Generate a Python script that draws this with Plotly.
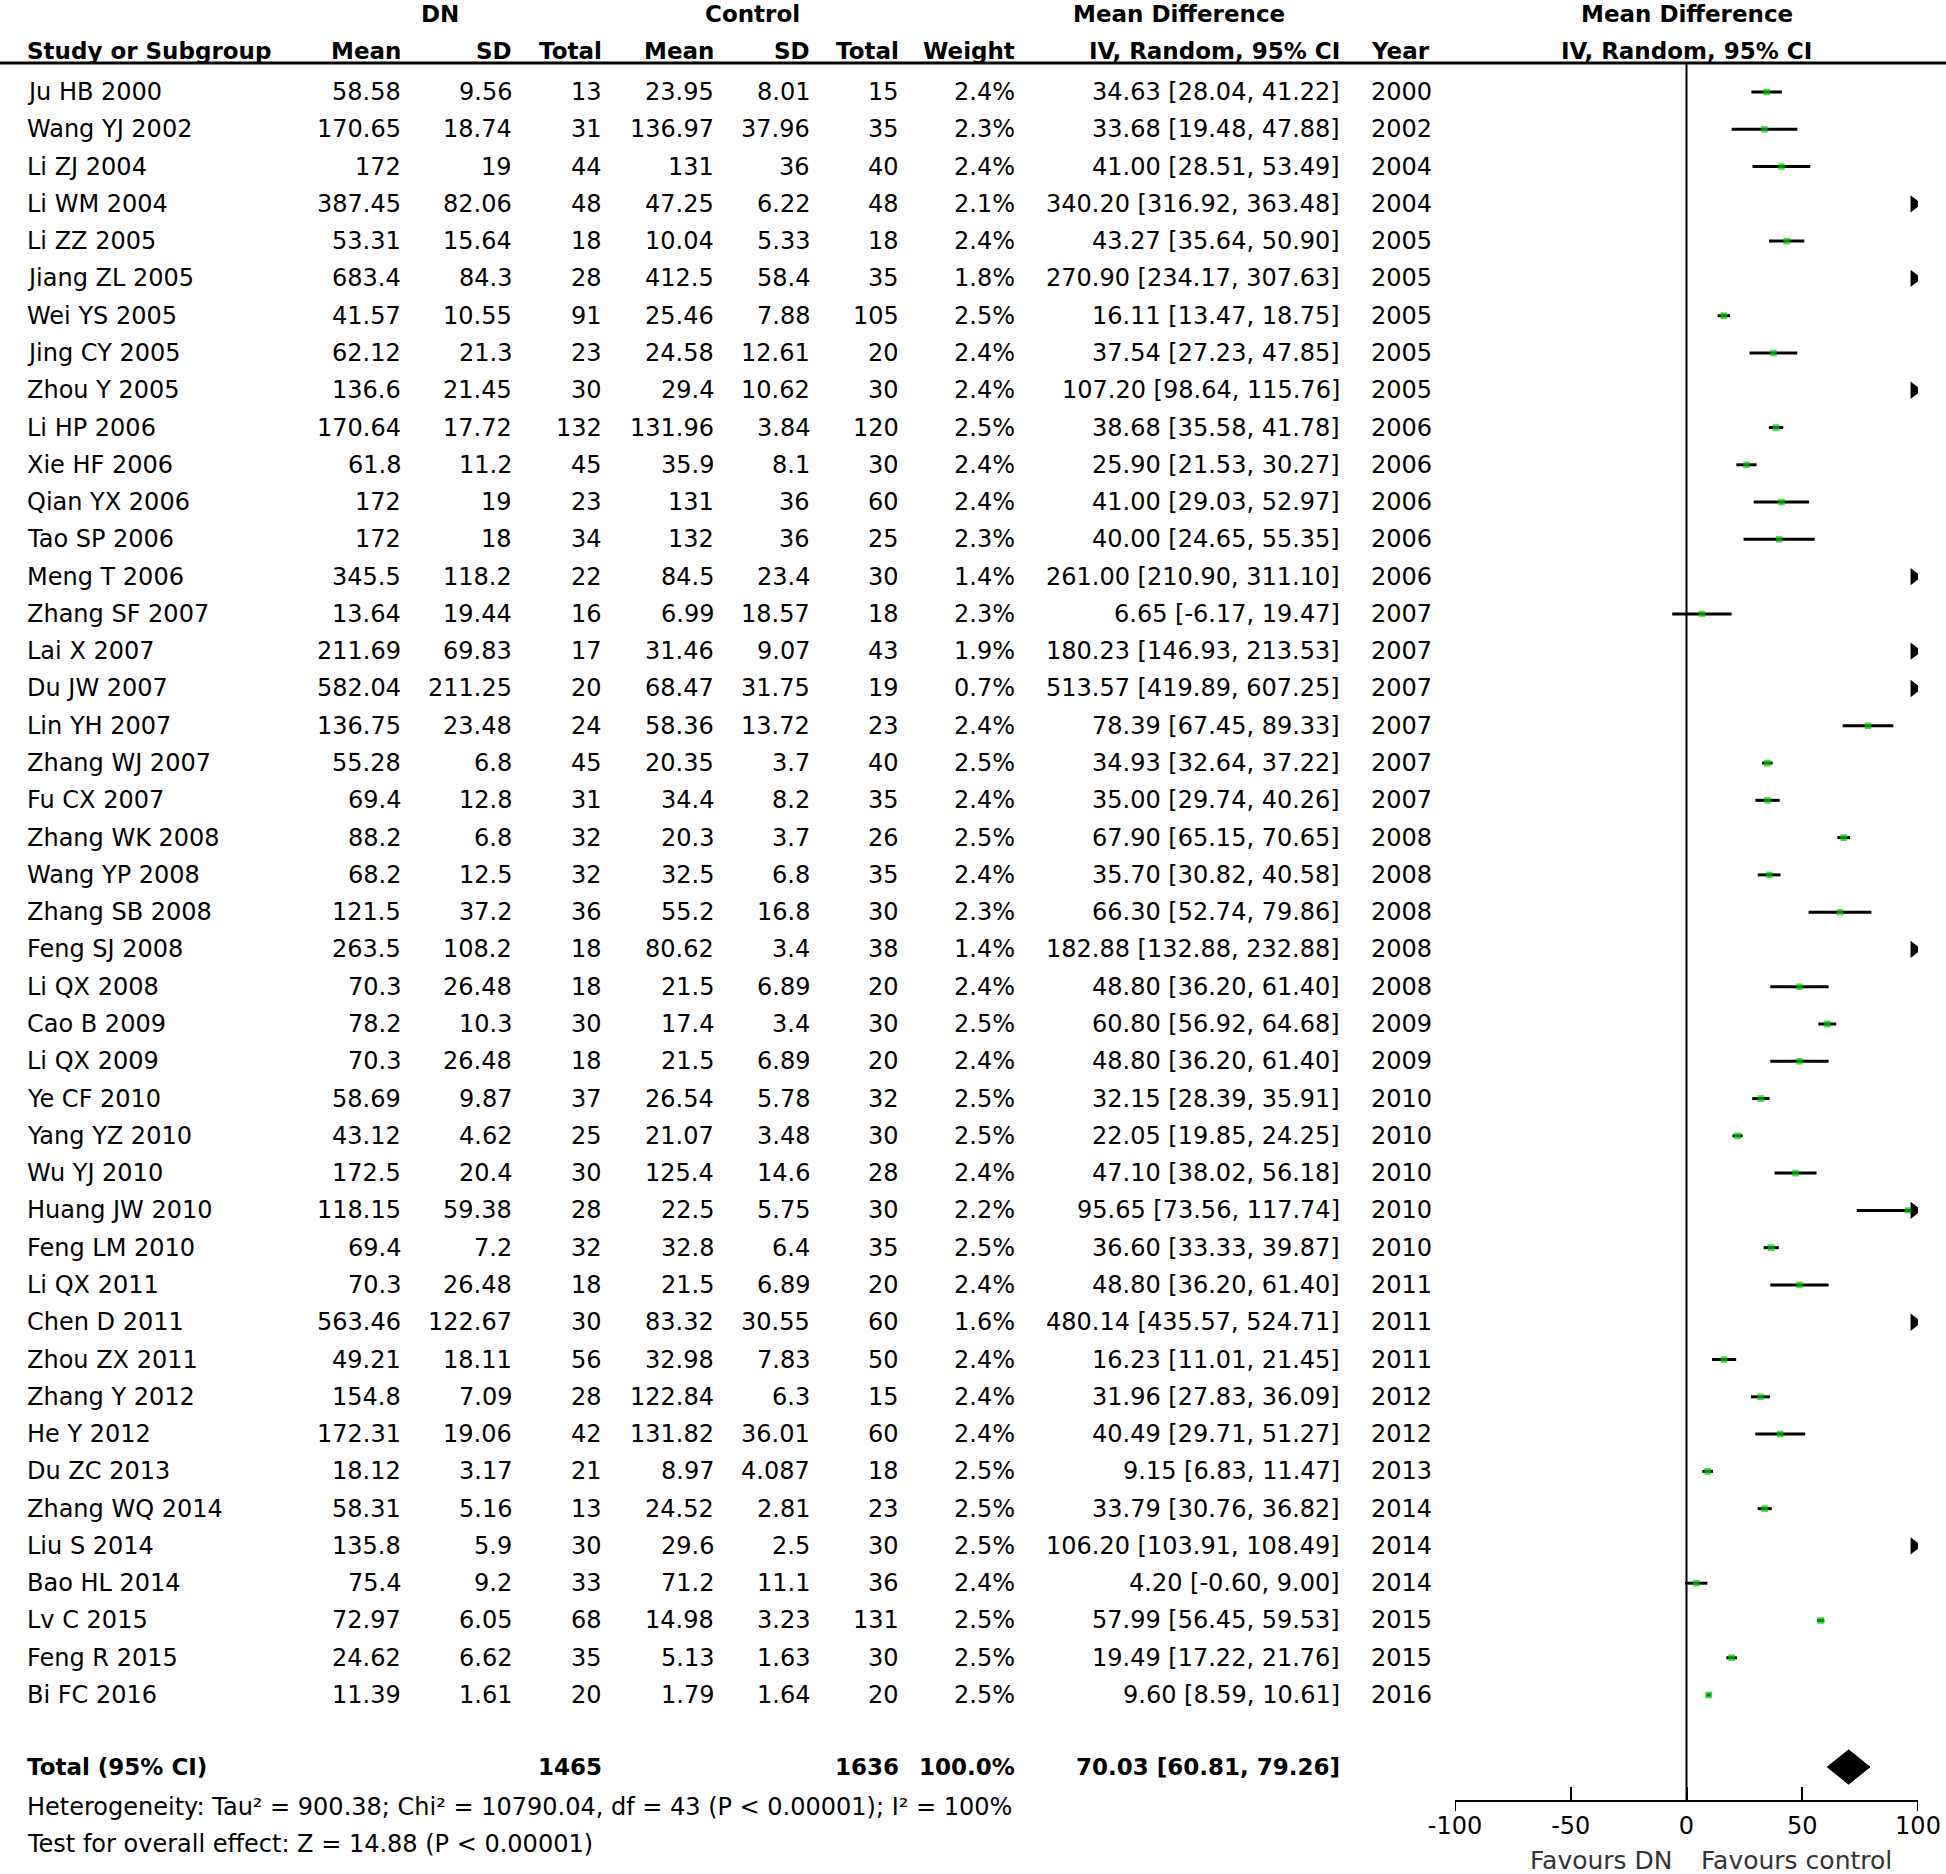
import plotly.graph_objects as go

# ---------------- data ----------------
study = ["Ju HB 2000", "Wang YJ 2002", "Li ZJ 2004", "Li WM 2004", "Li ZZ 2005", "Jiang ZL 2005",
         "Wei YS 2005", "Jing CY 2005", "Zhou Y 2005", "Li HP 2006", "Xie HF 2006", "Qian YX 2006",
         "Tao SP 2006", "Meng T 2006", "Zhang SF 2007", "Lai X 2007", "Du JW 2007", "Lin YH 2007",
         "Zhang WJ 2007", "Fu CX 2007", "Zhang WK 2008", "Wang YP 2008", "Zhang SB 2008", "Feng SJ 2008",
         "Li QX 2008", "Cao B 2009", "Li QX 2009", "Ye CF 2010", "Yang YZ 2010", "Wu YJ 2010",
         "Huang JW 2010", "Feng LM 2010", "Li QX 2011", "Chen D 2011", "Zhou ZX 2011", "Zhang Y 2012",
         "He Y 2012", "Du ZC 2013", "Zhang WQ 2014", "Liu S 2014", "Bao HL 2014", "Lv C 2015",
         "Feng R 2015", "Bi FC 2016"]
dn_mean = [58.58, 170.65, 172, 387.45, 53.31, 683.4, 41.57, 62.12, 136.6, 170.64, 61.8, 172, 172, 345.5,
           13.64, 211.69, 582.04, 136.75, 55.28, 69.4, 88.2, 68.2, 121.5, 263.5, 70.3, 78.2, 70.3, 58.69,
           43.12, 172.5, 118.15, 69.4, 70.3, 563.46, 49.21, 154.8, 172.31, 18.12, 58.31, 135.8, 75.4,
           72.97, 24.62, 11.39]
dn_sd = [9.56, 18.74, 19, 82.06, 15.64, 84.3, 10.55, 21.3, 21.45, 17.72, 11.2, 19, 18, 118.2, 19.44, 69.83,
         211.25, 23.48, 6.8, 12.8, 6.8, 12.5, 37.2, 108.2, 26.48, 10.3, 26.48, 9.87, 4.62, 20.4, 59.38, 7.2,
         26.48, 122.67, 18.11, 7.09, 19.06, 3.17, 5.16, 5.9, 9.2, 6.05, 6.62, 1.61]
dn_n = [13, 31, 44, 48, 18, 28, 91, 23, 30, 132, 45, 23, 34, 22, 16, 17, 20, 24, 45, 31, 32, 32, 36, 18, 18,
        30, 18, 37, 25, 30, 28, 32, 18, 30, 56, 28, 42, 21, 13, 30, 33, 68, 35, 20]
ct_mean = [23.95, 136.97, 131, 47.25, 10.04, 412.5, 25.46, 24.58, 29.4, 131.96, 35.9, 131, 132, 84.5, 6.99,
           31.46, 68.47, 58.36, 20.35, 34.4, 20.3, 32.5, 55.2, 80.62, 21.5, 17.4, 21.5, 26.54, 21.07, 125.4,
           22.5, 32.8, 21.5, 83.32, 32.98, 122.84, 131.82, 8.97, 24.52, 29.6, 71.2, 14.98, 5.13, 1.79]
ct_sd = [8.01, 37.96, 36, 6.22, 5.33, 58.4, 7.88, 12.61, 10.62, 3.84, 8.1, 36, 36, 23.4, 18.57, 9.07, 31.75,
         13.72, 3.7, 8.2, 3.7, 6.8, 16.8, 3.4, 6.89, 3.4, 6.89, 5.78, 3.48, 14.6, 5.75, 6.4, 6.89, 30.55,
         7.83, 6.3, 36.01, 4.087, 2.81, 2.5, 11.1, 3.23, 1.63, 1.64]
ct_n = [15, 35, 40, 48, 18, 35, 105, 20, 30, 120, 30, 60, 25, 30, 18, 43, 19, 23, 40, 35, 26, 35, 30, 38, 20,
        30, 20, 32, 30, 28, 30, 35, 20, 60, 50, 15, 60, 18, 23, 30, 36, 131, 30, 20]
weight = [2.4, 2.3, 2.4, 2.1, 2.4, 1.8, 2.5, 2.4, 2.4, 2.5, 2.4, 2.4, 2.3, 1.4, 2.3, 1.9, 0.7, 2.4, 2.5, 2.4,
          2.5, 2.4, 2.3, 1.4, 2.4, 2.5, 2.4, 2.5, 2.5, 2.4, 2.2, 2.5, 2.4, 1.6, 2.4, 2.4, 2.4, 2.5, 2.5, 2.5,
          2.4, 2.5, 2.5, 2.5]
md = [34.63, 33.68, 41.00, 340.20, 43.27, 270.90, 16.11, 37.54, 107.20, 38.68, 25.90, 41.00, 40.00, 261.00,
      6.65, 180.23, 513.57, 78.39, 34.93, 35.00, 67.90, 35.70, 66.30, 182.88, 48.80, 60.80, 48.80, 32.15,
      22.05, 47.10, 95.65, 36.60, 48.80, 480.14, 16.23, 31.96, 40.49, 9.15, 33.79, 106.20, 4.20, 57.99,
      19.49, 9.60]
md_lo = [28.04, 19.48, 28.51, 316.92, 35.64, 234.17, 13.47, 27.23, 98.64, 35.58, 21.53, 29.03, 24.65, 210.90,
         -6.17, 146.93, 419.89, 67.45, 32.64, 29.74, 65.15, 30.82, 52.74, 132.88, 36.20, 56.92, 36.20, 28.39,
         19.85, 38.02, 73.56, 33.33, 36.20, 435.57, 11.01, 27.83, 29.71, 6.83, 30.76, 103.91, -0.60, 56.45,
         17.22, 8.59]
md_hi = [41.22, 47.88, 53.49, 363.48, 50.90, 307.63, 18.75, 47.85, 115.76, 41.78, 30.27, 52.97, 55.35, 311.10,
         19.47, 213.53, 607.25, 89.33, 37.22, 40.26, 70.65, 40.58, 79.86, 232.88, 61.40, 64.68, 61.40, 35.91,
         24.25, 56.18, 117.74, 39.87, 61.40, 524.71, 21.45, 36.09, 51.27, 11.47, 36.82, 108.49, 9.00, 59.53,
         21.76, 10.61]
year = [2000, 2002, 2004, 2004, 2005, 2005, 2005, 2005, 2005, 2006, 2006, 2006, 2006, 2006, 2007, 2007, 2007,
        2007, 2007, 2007, 2008, 2008, 2008, 2008, 2008, 2009, 2009, 2010, 2010, 2010, 2010, 2010, 2011, 2011,
        2011, 2012, 2012, 2013, 2014, 2014, 2014, 2015, 2015, 2016]

total_dn = 1465
total_ct = 1636
total_weight = 100.0
total_md, total_lo, total_hi = 70.03, 60.81, 79.26
heterogeneity = "Heterogeneity: Tau² = 900.38; Chi² = 10790.04, df = 43 (P < 0.00001); I² = 100%"
overall = "Test for overall effect: Z = 14.88 (P < 0.00001)"
ticks = [-100, -50, 0, 50, 100]

# ---------------- layout helpers ----------------
W, H = 1946, 1874
ROW0_PX, ROW_PX = 92, 37.28
FONT = "DejaVu Sans"
FS = 24
FSB = 23


def ypx(p):
    return (p - ROW0_PX) / ROW_PX


XMIN, XMAX = ticks[0], ticks[-1]
n = len(study)
rows = list(range(n))

fig = go.Figure()

# CI lines (clipped at the axis end)
lx, ly = [], []
for i in rows:
    if md_lo[i] >= XMAX:
        continue
    lx += [md_lo[i], min(md_hi[i], XMAX), None]
    ly += [i, i, None]
fig.add_trace(go.Scatter(x=lx, y=ly, mode="lines", line=dict(color="black", width=3),
                         hoverinfo="skip"))

# point estimates
inr = [i for i in rows if md[i] < XMAX]
fig.add_trace(go.Scatter(x=[md[i] for i in inr], y=inr, mode="markers",
                         marker=dict(symbol="square", color="#00cc00",
                                     size=[2.5 + 1.7 * weight[i] for i in inr], line_width=0)))

# arrows for intervals running past the axis
arr = [i for i in rows if md_hi[i] > XMAX]
fig.add_trace(go.Scatter(x=[XMAX - 1.6] * len(arr), y=arr, mode="markers",
                         marker=dict(symbol="triangle-right", color="black", size=15, line_width=0)))

# total diamond
yt = ypx(1767)
dh = 0.46
fig.add_trace(go.Scatter(x=[total_lo, total_md, total_hi, total_md, total_lo],
                         y=[yt, yt - dh, yt, yt + dh, yt], mode="lines", fill="toself",
                         fillcolor="black", line=dict(color="black", width=1)))

ann = []


def text(xpx, y, s, anchor="right", bold=False, color="black", xref="paper"):
    ann.append(dict(x=xpx / W if xref == "paper" else xpx, xref=xref, y=y, yref="y",
                    text=f"<b>{s}</b>" if bold else s, showarrow=False, xanchor=anchor,
                    yanchor="middle",
                    font=dict(family=FONT, size=FSB if bold else FS, color=color)))


# column positions (px)
C_STUDY, C_DNM, C_DNSD, C_DNN = 25, 403, 514, 604
C_CTM, C_CTSD, C_CTN, C_W, C_CI, C_Y = 716, 812, 901, 1017, 1342, 1369

# headers
yh1, yh2 = ypx(14), ypx(51)
text(440, yh1, "DN", "center", True)
text(752, yh1, "Control", "center", True)
text(1179, yh1, "Mean Difference", "center", True)
text(0, yh1, "Mean Difference", "center", True, xref="x")
text(C_STUDY, yh2, "Study or Subgroup", "left", True)
text(C_DNM, yh2, "Mean", bold=True)
text(C_DNSD, yh2, "SD", bold=True)
text(C_DNN, yh2, "Total", bold=True)
text(C_CTM, yh2, "Mean", bold=True)
text(C_CTSD, yh2, "SD", bold=True)
text(C_CTN, yh2, "Total", bold=True)
text(C_W, yh2, "Weight", bold=True)
text(C_CI, yh2, "IV, Random, 95% CI", bold=True)
text(C_Y, yh2, "Year", "left", True)
text(0, yh2, "IV, Random, 95% CI", "center", True, xref="x")

for i in rows:
    text(C_STUDY, i, study[i], "left")
    text(C_DNM, i, f"{dn_mean[i]:g}")
    text(C_DNSD, i, f"{dn_sd[i]:g}")
    text(C_DNN, i, f"{dn_n[i]}")
    text(C_CTM, i, f"{ct_mean[i]:g}")
    text(C_CTSD, i, f"{ct_sd[i]:g}")
    text(C_CTN, i, f"{ct_n[i]}")
    text(C_W, i, f"{weight[i]:.1f}%")
    text(C_CI, i, f"{md[i]:.2f} [{md_lo[i]:.2f}, {md_hi[i]:.2f}]")
    text(C_Y, i, f"{year[i]}", "left")

text(C_STUDY, yt, "Total (95% CI)", "left", True)
text(C_DNN, yt, f"{total_dn}", bold=True)
text(C_CTN, yt, f"{total_ct}", bold=True)
text(C_W, yt, f"{total_weight:.1f}%", bold=True)
text(C_CI, yt, f"{total_md:.2f} [{total_lo:.2f}, {total_hi:.2f}]", bold=True)
text(C_STUDY, ypx(1807), heterogeneity, "left")
text(C_STUDY, ypx(1844), overall, "left")

# favours labels
yf = ypx(1860)
ann.append(dict(x=0, xref="x", y=yf, yref="y", text="Favours DN", showarrow=False, xanchor="right",
                xshift=-12, font=dict(family=FONT, size=25, color="#333333")))
ann.append(dict(x=0, xref="x", y=yf, yref="y", text="Favours control", showarrow=False, xanchor="left",
                xshift=12, font=dict(family=FONT, size=25, color="#333333")))

AX_PX = 1801
shapes = [
    dict(type="line", xref="paper", x0=0, x1=1, yref="y", y0=ypx(63), y1=ypx(63),
         line=dict(color="black", width=3)),
    dict(type="line", xref="x", x0=0, x1=0, yref="y", y0=ypx(63), y1=ypx(AX_PX),
         line=dict(color="black", width=2)),
]
# end ticks also reach a little below the axis line
for t in (ticks[0], ticks[-1]):
    shapes.append(dict(type="line", xref="x", x0=t, x1=t, yref="y", y0=ypx(AX_PX), y1=ypx(AX_PX + 10),
                       line=dict(color="black", width=2)))

fig.update_layout(
    width=W, height=H, autosize=False,
    margin=dict(l=0, r=0, t=0, b=0, pad=0, autoexpand=False),
    paper_bgcolor="white", plot_bgcolor="white", showlegend=False,
    annotations=ann, shapes=shapes,
    xaxis=dict(domain=[1455 / W, 1918 / W], range=[XMIN, XMAX], anchor="free",
               position=1 - AX_PX / H, showline=True, linecolor="black", linewidth=2,
               ticks="inside", ticklen=13, tickwidth=2, tickcolor="black",
               tickvals=ticks, ticktext=[str(t) for t in ticks], ticklabelstandoff=3,
               tickfont=dict(family=FONT, size=FS, color="black"), automargin=False,
               showgrid=False, zeroline=False, fixedrange=True),
    yaxis=dict(domain=[0, 1], range=[ypx(H), ypx(0)], visible=False, showgrid=False,
               zeroline=False, fixedrange=True, automargin=False),
)

fig.write_html("out.html", config={"responsive": False, "displayModeBar": False},
               post_script="document.body.style.margin='0';document.body.style.overflow='hidden';")
